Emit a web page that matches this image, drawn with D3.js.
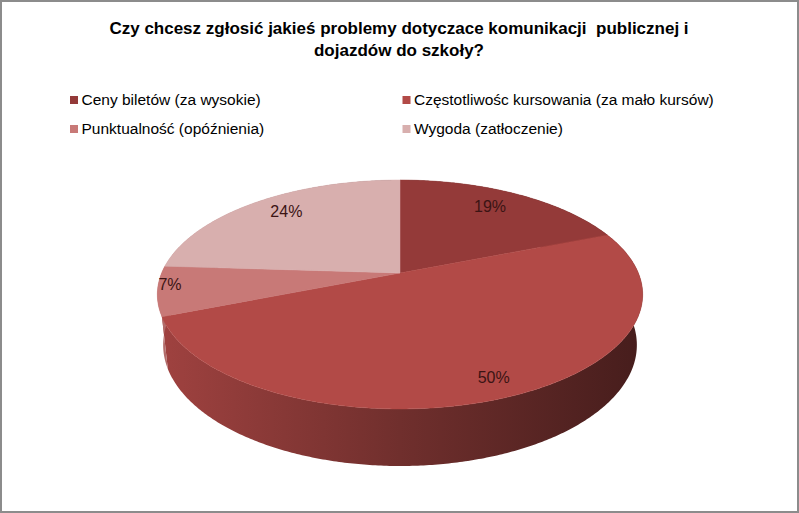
<!DOCTYPE html>
<html>
<head>
<meta charset="utf-8">
<script src="https://cdn.jsdelivr.net/npm/d3@7"></script>
<style>
  body { margin: 0; background: #fff; }
  svg { display: block; }
</style>
</head>
<body>
<svg id="chart"></svg>
<script>
// chart data
var titleLines = ["Czy chcesz zgłosić jakieś problemy dotyczace komunikacji  publicznej i", "dojazdów do szkoły?"];
var categories = ["Ceny biletów (za wysokie)", "Częstotliwośc kursowania (za mało kursów)", "Punktualność (opóźnienia)", "Wygoda (zatłoczenie)"];
var values = [19, 50, 7, 24];
var colors = ["#943a39", "#b24a47", "#c87977", "#d8afae"];

(function() {
    var width = 799, height = 513;
    var font = "'Liberation Sans Narrow', 'Liberation Sans', sans-serif";

    var svg = d3.select("#chart")
        .attr("width", width)
        .attr("height", height);

    svg.append("rect")
        .attr("x", 1).attr("y", 1)
        .attr("width", width - 2).attr("height", height - 2)
        .attr("fill", "#fff")
        .attr("stroke", "#8c8c8c")
        .attr("stroke-width", 2);

    // title
    svg.append("g").selectAll("text")
        .data(titleLines)
        .enter()
        .append("text")
        .attr("x", 399)
        .attr("y", function(d, i) { return 34 + i * 22; })
        .attr("text-anchor", "middle")
        .style("white-space", "pre")
        .attr("font-family", font)
        .attr("font-weight", "bold")
        .attr("font-size", "17px")
        .attr("fill", "#000")
        .text(function(d) { return d; });

    // legend, 2 columns
    var legend = svg.append("g").selectAll("g")
        .data(categories)
        .enter()
        .append("g")
        .attr("transform", function(d, i) {
            return "translate(" + (i % 2 === 0 ? 70 : 402.5) + "," + (100 + Math.floor(i / 2) * 29) + ")";
        });
    legend.append("rect")
        .attr("x", 0).attr("y", -4)
        .attr("width", 8).attr("height", 8)
        .attr("fill", function(d, i) { return colors[i]; });
    legend.append("text")
        .attr("x", 11.5)
        .attr("y", 5)
        .attr("font-family", font)
        .attr("font-size", "15.5px")
        .attr("fill", "#000")
        .text(function(d) { return d; });

    // perspective projection of the 3d pie (unit radius disc)
    var cx = 400, cy = 273, focal = 1125, dist = 4.72, thick = 0.241;
    var tilt = 27.6 * Math.PI / 180, cT = Math.cos(tilt), sT = Math.sin(tilt);

    function project(theta, r, yUp) {
        var X = r * Math.sin(theta), Z = r * Math.cos(theta);
        var w = dist + Z * cT - yUp * sT;
        var v = Z * sT + yUp * cT;
        return [cx + focal * X / w, cy - focal * v / w];
    }

    function arcAngles(a0, a1) {
        var n = Math.max(2, Math.ceil((a1 - a0) / 0.01));
        return d3.range(n + 1).map(function(k) { return a0 + (a1 - a0) * k / n; });
    }

    var arcs = d3.pie().sort(null).value(function(d) { return d; })(values);
    var line = d3.line();

    var defs = svg.append("defs");
    var xl = project(-Math.PI / 2, 1, 0)[0] - 5, xr = project(Math.PI / 2, 1, 0)[0] + 5;
    arcs.forEach(function(a, i) {
        var base = d3.color(colors[i]);
        var g = defs.append("linearGradient")
            .attr("id", "wall" + i)
            .attr("gradientUnits", "userSpaceOnUse")
            .attr("x1", xl).attr("x2", xr)
            .attr("y1", 0).attr("y2", 0);
        g.append("stop").attr("offset", 0).attr("stop-color", base.darker(0.3));
        g.append("stop").attr("offset", 0.5).attr("stop-color", base.darker(1.3));
        g.append("stop").attr("offset", 1).attr("stop-color", base.darker(2.6));
    });

    var pie = svg.append("g");

    // outer walls
    pie.selectAll("path.wall")
        .data(arcs)
        .enter()
        .append("path")
        .attr("class", "wall")
        .attr("fill", function(d, i) { return "url(#wall" + i + ")"; })
        .attr("d", function(d) {
            var angs = arcAngles(d.startAngle, d.endAngle);
            var top = angs.map(function(t) { return project(t, 1, 0); });
            var bot = angs.slice().reverse().map(function(t) { return project(t, 1, -thick); });
            return line(top.concat(bot)) + "Z";
        });

    // top faces
    pie.selectAll("path.top")
        .data(arcs)
        .enter()
        .append("path")
        .attr("class", "top")
        .attr("fill", function(d, i) { return colors[i]; })
        .attr("stroke", function(d, i) { return colors[i]; })
        .attr("stroke-width", 0.5)
        .attr("d", function(d) {
            var pts = [project(0, 0, 0)].concat(
                arcAngles(d.startAngle, d.endAngle).map(function(t) { return project(t, 1, 0); }));
            return line(pts) + "Z";
        });

    // data labels
    var labelRadius = [0.75, 0.9, 0.95, 0.77];
    pie.selectAll("text")
        .data(arcs)
        .enter()
        .append("text")
        .attr("transform", function(d, i) {
            var p = project((d.startAngle + d.endAngle) / 2, labelRadius[i], 0);
            return "translate(" + p[0] + "," + (p[1] - 5) + ")";
        })
        .attr("text-anchor", "middle")
        .attr("dominant-baseline", "central")
        .attr("font-family", font)
        .attr("font-size", "16px")
        .attr("fill", "#3b1414")
        .text(function(d) { return d.data + "%"; });
})();
</script>
</body>
</html>
